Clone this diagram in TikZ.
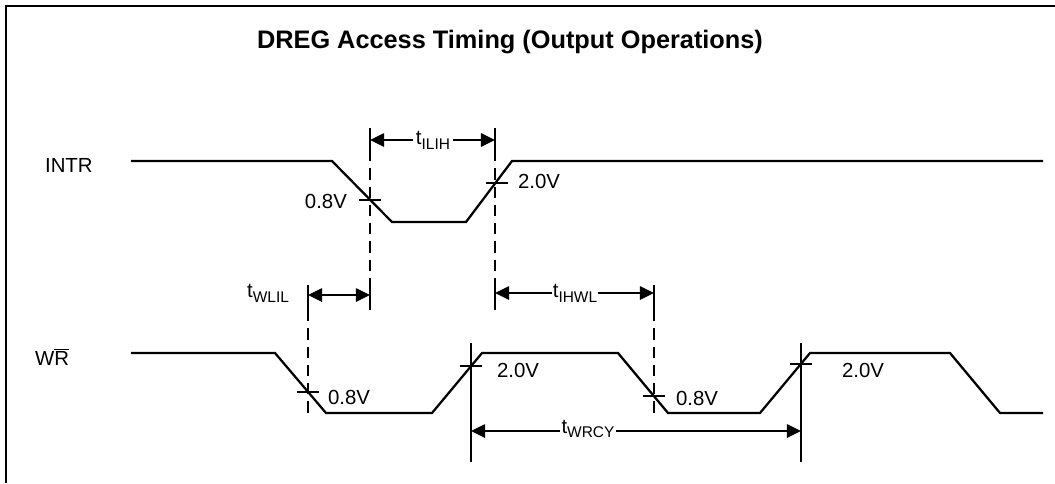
\documentclass[tikz,border=0pt]{standalone}
\usepackage{fontspec}
\setmainfont{Liberation Sans}
\usetikzlibrary{arrows.meta}

\newcommand{\tsub}[1]{t\raisebox{-0.45ex}{\fontsize{11}{13}\selectfont #1}}

\tikzset{
	frame/.style={line width=1.5pt},
	wave/.style={line width=1.6pt, line join=miter},
	crosstick/.style={line width=1.2pt},
	bar/.style={line width=1.2pt},
	guide/.style={line width=1.2pt, dash pattern=on 8pt off 5pt},
	dim/.style={line width=1.2pt, -{Triangle[length=10pt, width=9.5pt]}},
	dimboth/.style={line width=1.2pt, {Triangle[length=10pt, width=9.5pt]}-{Triangle[length=10pt, width=9.5pt]}},
	lbl/.style={font=\fontsize{14.5}{16}\selectfont, inner sep=2pt},
}

\begin{document}
\begin{tikzpicture}[x=0.025cm, y=-0.025cm]
	\useasboundingbox (0,0) rectangle (1055,483);
	\draw [frame] (6,483) -- (6,6) -- (1055,6);

	\node (title) [font=\fontsize{18}{21}\selectfont\bfseries] at (510,42) {DREG Access Timing (Output Operations)};
	\node (intr) [lbl, anchor=west] at (42,165) {INTR};
	\node (wr) [lbl, anchor=west] at (32,357) {W$\overline{\mbox{R}}$};

	% signals
	\draw [wave] plot coordinates {(131,161) (332,161) (392,222) (466,222) (512,161) (1043,161)};
	\draw [wave] plot coordinates {(131,353) (275,353) (326,413) (432,413) (482,353) (618,353) (668,413) (760,413) (810,353) (950,353) (1000,413) (1043,413)};

	% threshold crossings
	\foreach \x/\y in {370/200, 497/183, 308/392, 471/366, 654/396, 801/364}
	{
		\draw [crosstick] (\x-11,\y) -- (\x+11,\y);
	}

	\node (v1) [lbl, anchor=east] at (350,201) {0.8V};
	\node (v2) [lbl, anchor=west] at (515,181) {2.0V};
	\node (v3) [lbl, anchor=west] at (325,397) {0.8V};
	\node (v4) [lbl, anchor=west] at (494,370) {2.0V};
	\node (v5) [lbl, anchor=west] at (673,398) {0.8V};
	\node (v6) [lbl, anchor=west] at (839,370) {2.0V};

	% bars and guides
	\foreach \x/\a/\b in {370/128/150, 495/128/150, 308/285/310, 370/285/310, 495/285/310, 654/285/310, 471/343/462, 801/343/462}
		\draw [bar] (\x,\a) -- (\x,\b);
	\foreach \x/\a/\b in {370/150/285, 495/150/285, 308/310/413, 654/310/417}
		\draw [guide] (\x,\a) -- (\x,\b);

	% intervals
	\coordinate (ilihL) at (370,140);
	\coordinate (ilihR) at (495,140);
	\node (ilih) [lbl] at (433,140) {\tsub{ILIH}};
	\draw [dim] (ilih) -- (ilihL);
	\draw [dim] (ilih) -- (ilihR);

	\coordinate (wlilL) at (308,295);
	\coordinate (wlilR) at (370,295);
	\node (wlil) [lbl, anchor=east] at (292,293) {\tsub{WLIL}};
	\draw [dimboth] (wlilL) -- (wlilR);

	\coordinate (ihwlL) at (495,293);
	\coordinate (ihwlR) at (654,293);
	\node (ihwl) [lbl, inner sep=0.5pt] at (575,293) {\tsub{IHWL}};
	\draw [dim] (ihwl) -- (ihwlL);
	\draw [dim] (ihwl) -- (ihwlR);

	\coordinate (wrcyL) at (471,431);
	\coordinate (wrcyR) at (801,431);
	\node (wrcy) [lbl, inner sep=1pt] at (588,429) {\tsub{WRCY}};
	\draw [dim] (wrcy.west |- wrcyL) -- (wrcyL);
	\draw [dim] (wrcy.east |- wrcyR) -- (wrcyR);

\end{tikzpicture}
\end{document}
